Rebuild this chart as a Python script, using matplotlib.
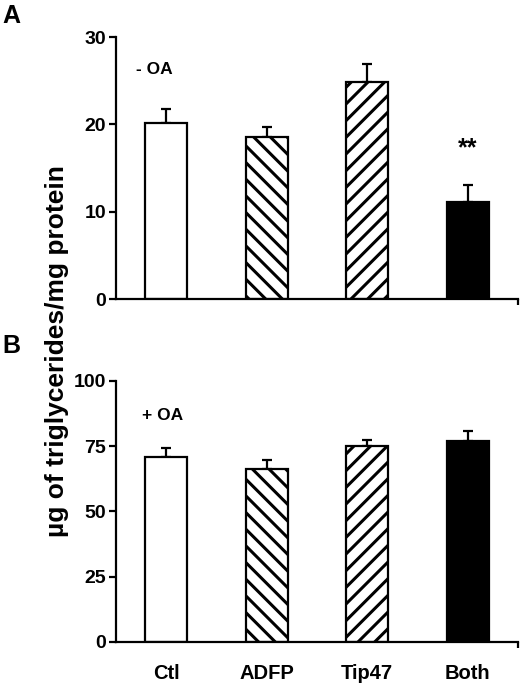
import matplotlib
matplotlib.use("Agg")
import matplotlib.pyplot as plt
import numpy as np

plt.rcParams['font.family'] = ['Liberation Sans', 'DejaVu Sans']
plt.rcParams['font.weight'] = 'bold'
plt.rcParams['hatch.linewidth'] = 2.2

categories = ["Ctl", "ADFP", "Tip47", "Both"]
vals_minus = [20.1, 18.5, 24.9, 11.1]
err_minus = [1.7, 1.2, 2.0, 1.9]
vals_plus = [70.9, 66.3, 74.9, 77.1]
err_plus = [3.5, 3.4, 2.4, 3.7]
hatches = ["", "\\\\", "//", ""]
faces = ["white", "white", "white", "black"]

fig = plt.figure(figsize=(5.2, 6.83), dpi=100)
axA = fig.add_axes([0.223, 0.5622, 0.773, 0.3836])
axB = fig.add_axes([0.223, 0.0605, 0.773, 0.3817])

x = np.arange(len(categories))

def draw(ax, vals, errs, ymax, yticks):
    for i in range(len(categories)):
        ax.bar(x[i], vals[i], width=0.42, color=faces[i], edgecolor='black',
               linewidth=1.6, hatch=hatches[i], zorder=2)
    ax.errorbar(x, vals, yerr=[np.zeros(len(vals)), errs], fmt='none',
                ecolor='black', elinewidth=1.6, capsize=3.5, capthick=1.6, zorder=1)
    ax.set_xlim(-0.5, 3.5)
    ax.set_ylim(0, ymax)
    ax.set_yticks(yticks)
    ax.spines['top'].set_visible(False)
    ax.spines['right'].set_visible(False)
    ax.spines['left'].set_linewidth(1.6)
    ax.spines['bottom'].set_linewidth(1.6)
    ax.tick_params(axis='y', direction='out', length=5, width=1.6, labelsize=14, pad=2)
    ax.set_xticks([3.5], minor=True)
    ax.tick_params(axis='x', which='minor', direction='out', length=4, width=1.6)
    ax.tick_params(axis='x', which='major', length=0, labelsize=14.5, pad=16)
    for lab in ax.get_yticklabels():
        lab.set_fontweight('bold')

draw(axA, vals_minus, err_minus, 30, [0, 10, 20, 30])
axA.set_xticks(x)
axA.set_xticklabels([])
axA.text(-0.115, 26.3, "- OA", ha='center', va='center', fontsize=12.5, fontweight='bold')
axA.text(3, 17.3, "**", ha='center', va='center', fontsize=18)

draw(axB, vals_plus, err_plus, 100, [0, 25, 50, 75, 100])
axB.set_xticks(x)
axB.set_xticklabels(categories, fontweight='bold')
axB.text(-0.04, 86.7, "+ OA", ha='center', va='center', fontsize=12.5, fontweight='bold')

fig.text(0.004, 0.976, "A", fontsize=18, fontweight='bold', ha='left', va='center')
fig.text(0.004, 0.494, "B", fontsize=18, fontweight='bold', ha='left', va='center')
fig.text(57/520, 1 - 351/683, "µg of triglycerides/mg protein", rotation=90,
         ha='center', va='center', fontsize=19, fontweight='bold')

fig.savefig("out.png", dpi=100)
